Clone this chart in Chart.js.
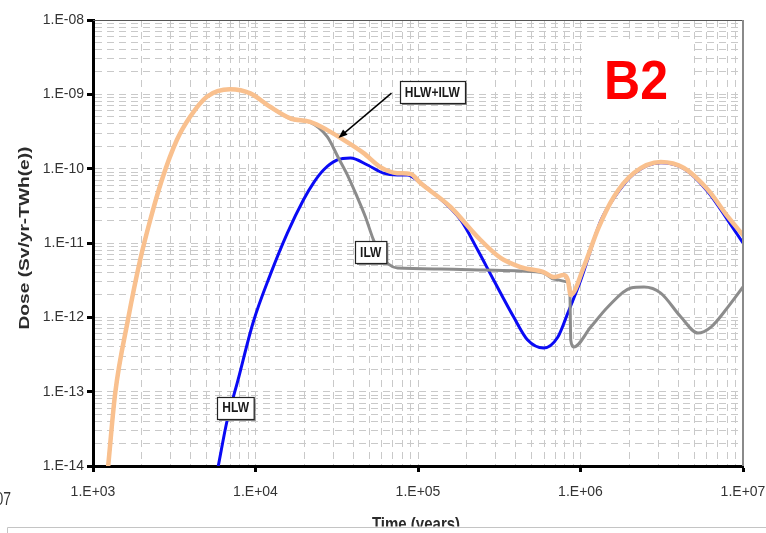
<!DOCTYPE html>
<html>
<head>
<meta charset="utf-8">
<script src="https://cdn.jsdelivr.net/npm/chart.js@4/dist/chart.umd.min.js"></script>
<style>
  html, body { margin: 0; padding: 0; background: #ffffff; }
  #wrap { width: 766px; height: 533px; position: relative; }
  canvas { display: block; }
</style>
</head>
<body>
<div id="wrap"><canvas id="dose" width="766" height="533"></canvas></div>
<script>
// Time (years) and dose (Sv/yr-TWh(e)) for each waste stream
const timeTotal = [1240, 1370, 1640, 1950, 2250, 2650, 3280, 3960, 5020, 6980, 9290, 12300, 16400, 21700, 27700, 33300, 46100, 58700, 74500, 89900, 103600, 158500, 233000, 322000, 428000, 593000, 684000, 788000, 835000, 871000, 1047000, 1290000, 1603000, 2130000, 3120000, 4330000, 6080000, 8090000, 10000000];
const doseTotal = [1.0e-14, 9.6e-14, 9.2e-13, 5.9e-12, 2.04e-11, 7.0e-11, 2.43e-10, 5.0e-10, 9.3e-10, 1.17e-9, 1.03e-9, 6.8e-10, 4.76e-10, 4.25e-10, 3.3e-10, 2.59e-10, 1.63e-10, 1.05e-10, 8.7e-11, 8.5e-11, 6.4e-11, 3.05e-11, 1.2e-11, 6.3e-12, 4.75e-12, 4.07e-12, 3.48e-12, 3.7e-12, 3.2e-12, 2.0e-12, 4.75e-12, 1.6e-11, 4.16e-11, 8.75e-11, 1.23e-10, 1.02e-10, 5.2e-11, 2.24e-11, 1.28e-11];

const timeHLW = [5900, 6700, 7720, 9690, 12300, 15700, 19700, 22700, 26200, 31900, 38400, 48900, 61300, 74800, 86100, 103600, 124700, 183000, 233000, 292000, 388000, 473000, 593000, 724000, 835000, 1004000, 1334000, 1603000, 2130000, 3120000, 4330000, 6080000, 8090000, 10000000];
const doseHLW = [1.0e-14, 4.16e-14, 1.31e-13, 8.65e-13, 3.7e-12, 1.36e-11, 3.79e-11, 6.4e-11, 9.6e-11, 1.31e-10, 1.39e-10, 1.12e-10, 8.7e-11, 8.2e-11, 8.2e-11, 6.4e-11, 4.7e-11, 2.04e-11, 8.05e-12, 3.18e-12, 1.01e-12, 4.95e-13, 3.87e-13, 5.4e-13, 1.14e-12, 3.18e-12, 2.0e-11, 4.0e-11, 8.5e-11, 1.2e-10, 1.0e-10, 4.9e-11, 2.0e-11, 1.0e-11];

const timeILW = [1240, 1370, 1640, 1950, 2250, 2650, 3280, 3960, 5020, 6980, 9290, 12300, 16400, 21700, 27700, 32400, 36800, 41800, 47500, 53200, 58800, 65800, 74800, 137700, 254000, 428000, 593000, 684000, 835000, 859000, 871000, 909000, 1156000, 1472000, 2040000, 2460000, 3120000, 4150000, 5280000, 6350000, 8090000, 10000000];
const doseILW = [1.0e-14, 9.6e-14, 9.2e-13, 5.9e-12, 2.04e-11, 7.0e-11, 2.43e-10, 5.0e-10, 9.3e-10, 1.17e-9, 1.03e-9, 6.8e-10, 4.7e-10, 4.2e-10, 2.67e-10, 1.39e-10, 8.2e-11, 4.4e-11, 2.24e-11, 1.1e-11, 6.9e-12, 5.2e-12, 4.6e-12, 4.47e-12, 4.33e-12, 4.2e-12, 3.95e-12, 3.28e-12, 2.99e-12, 2.56e-12, 4.95e-13, 4.0e-13, 7.4e-13, 1.38e-12, 2.48e-12, 2.56e-12, 2.12e-12, 1.01e-12, 6.15e-13, 7.4e-13, 1.38e-12, 2.56e-12];

// Axis decades (exponents of ten)
const timeDecades = [3, 4, 5, 6, 7];
const doseDecades = [-14, -13, -12, -11, -10, -9, -8];

const seriesNames = ['HLW+ILW', 'ILW', 'HLW'];

// Callout labels, anchored in data coordinates
const callouts = [
  { text: 'HLW', t: 7550, d: 6.1e-14 },
  { text: 'ILW', t: 51200, d: 7.6e-12 },
  { text: 'HLW+ILW', t: 122400, d: 1.06e-9, arrowFrom: { t: 68700, d: 1.04e-9 }, arrowTo: { t: 32400, d: 2.59e-10 } }
];

function pairs(xs, ys) { return xs.map((x, i) => ({ x: x, y: ys[i] })); }

function decadeTicks(exps) {
  const out = [];
  for (let i = 0; i < exps.length - 1; i++) {
    for (let m = 1; m <= 9; m++) out.push({ value: m * Math.pow(10, exps[i]) });
  }
  out.push({ value: Math.pow(10, exps[exps.length - 1]) });
  return out;
}
function isDecade(v) {
  const l = Math.log10(v);
  return Math.abs(l - Math.round(l)) < 1e-6;
}
function sciLabel(v) {
  if (!isDecade(v)) return '';
  const e = Math.round(Math.log10(v));
  return '1.E' + (e < 0 ? '-' : '+') + String(Math.abs(e)).padStart(2, '0');
}

const FONT = '"Liberation Sans", Arial, sans-serif';
const GRID = '#c9c9c9';
const SY = 1.28; // vertical stretch of the drawn captions

function stretchText(ctx, text, x, y, font, color, align, sy) {
  ctx.save();
  ctx.font = font;
  ctx.fillStyle = color;
  ctx.textAlign = align;
  ctx.textBaseline = 'middle';
  ctx.translate(x, y);
  ctx.scale(1, sy);
  ctx.fillText(text, 0, 0);
  ctx.restore();
}

const decorations = {
  id: 'decorations',
  beforeDatasetsDraw(chart) {
    const ctx = chart.ctx;
    // white panel behind the scenario tag
    ctx.save();
    ctx.fillStyle = '#ffffff';
    ctx.fillRect(582, 40, 109, 80);
    ctx.restore();
  },
  afterDatasetsDraw(chart) {
    const ctx = chart.ctx;
    const xs = chart.scales.x, ys = chart.scales.y;
    const a = chart.chartArea;

    // frame: top and right edges of the plot area
    ctx.save();
    ctx.strokeStyle = '#555555';
    ctx.lineWidth = 1.2;
    ctx.beginPath();
    ctx.moveTo(a.left, a.top + 0.5);
    ctx.lineTo(a.right, a.top + 0.5);
    ctx.stroke();
    ctx.strokeStyle = '#8a8a8a';
    ctx.lineWidth = 2;
    ctx.beginPath();
    ctx.moveTo(a.right, a.top);
    ctx.lineTo(a.right, a.bottom);
    ctx.stroke();
    ctx.restore();

    // scenario tag
    stretchText(ctx, 'B2', 636, 84, 'bold 50px ' + FONT, '#ff0000', 'center', 1.1);

    // callouts
    callouts.forEach(c => {
      const cx = xs.getPixelForValue(c.t);
      const cy = ys.getPixelForValue(c.d);
      if (c.arrowFrom) {
        const x1 = xs.getPixelForValue(c.arrowFrom.t), y1 = ys.getPixelForValue(c.arrowFrom.d);
        const x2 = xs.getPixelForValue(c.arrowTo.t), y2 = ys.getPixelForValue(c.arrowTo.d);
        const ang = Math.atan2(y2 - y1, x2 - x1);
        ctx.save();
        ctx.strokeStyle = '#000';
        ctx.fillStyle = '#000';
        ctx.lineWidth = 1.5;
        ctx.beginPath();
        ctx.moveTo(x1, y1);
        ctx.lineTo(x2 - 6 * Math.cos(ang), y2 - 6 * Math.sin(ang));
        ctx.stroke();
        ctx.beginPath();
        ctx.moveTo(x2, y2);
        ctx.lineTo(x2 - 9 * Math.cos(ang) + 3.5 * Math.sin(ang), y2 - 9 * Math.sin(ang) - 3.5 * Math.cos(ang));
        ctx.lineTo(x2 - 9 * Math.cos(ang) - 3.5 * Math.sin(ang), y2 - 9 * Math.sin(ang) + 3.5 * Math.cos(ang));
        ctx.closePath();
        ctx.fill();
        ctx.restore();
      }
      ctx.save();
      ctx.font = 'bold 12px ' + FONT;
      const w = ctx.measureText(c.text).width + 10;
      const h = 22;
      const bx = Math.round(cx - w / 2) + 0.5, by = Math.round(cy - h / 2) + 0.5;
      ctx.fillStyle = '#8c8c8c';
      ctx.fillRect(bx + 1.5, by + 1.5, w, h);
      ctx.fillStyle = '#ffffff';
      ctx.fillRect(bx, by, w, h);
      ctx.strokeStyle = '#222222';
      ctx.lineWidth = 1.2;
      ctx.strokeRect(bx, by, w, h);
      ctx.restore();
      stretchText(ctx, c.text, cx, cy + 0.5, 'bold 12px ' + FONT, '#1a1a1a', 'center', SY);
    });
  },
  afterDraw(chart) {
    const ctx = chart.ctx;
    // y axis title
    ctx.save();
    ctx.font = 'bold 15px ' + FONT;
    const t = 'Dose (Sv/yr-TWh(e))';
    const tw = ctx.measureText(t).width;
    ctx.translate(25, 238);
    ctx.rotate(-Math.PI / 2);
    ctx.scale(183 / tw, 1);
    ctx.fillStyle = '#2b2b2b';
    ctx.textAlign = 'center';
    ctx.textBaseline = 'middle';
    ctx.fillText(t, 0, 0);
    ctx.restore();

    // x axis title, cut by the lower frame
    ctx.save();
    ctx.beginPath();
    ctx.rect(0, 0, 766, 526.5);
    ctx.clip();
    stretchText(ctx, 'Time (years)', 416, 525, 'bold 15px ' + FONT, '#2b2b2b', 'center', SY);
    ctx.restore();

    // neighbouring panel edge
    stretchText(ctx, '1.E+07', 11, 500, '14px ' + FONT, '#333333', 'right', SY);
    ctx.save();
    ctx.strokeStyle = '#c4c4c4';
    ctx.lineWidth = 1;
    ctx.beginPath();
    ctx.moveTo(7.5, 533);
    ctx.lineTo(7.5, 527.5);
    ctx.lineTo(766, 527.5);
    ctx.stroke();
    ctx.restore();
  }
};

function axisOptions(exps, extra) {
  return Object.assign({
    type: 'logarithmic',
    min: Math.pow(10, exps[0]),
    max: Math.pow(10, exps[exps.length - 1]),
    afterBuildTicks: s => { s.ticks = decadeTicks(exps); },
    ticks: {
      autoSkip: false,
      maxRotation: 0,
      minRotation: 0,
      color: '#333333',
      font: { family: FONT, size: 14 },
      callback: v => sciLabel(v)
    },
    grid: {
      color: GRID,
      lineWidth: 1,
      drawTicks: true,
      tickLength: 6,
      tickWidth: 3,
      tickColor: c => (c.tick && isDecade(c.tick.value)) ? '#000000' : 'rgba(0,0,0,0)'
    },
    border: { display: true, color: '#000000', width: 3, dash: [7, 5] },
    title: { display: false }
  }, extra);
}

const xOpts = axisOptions(timeDecades, {
  afterFit: s => { s.height = 67; s.paddingLeft = 0; s.paddingRight = 0; }
});
xOpts.ticks.padding = 12;
const yOpts = axisOptions(doseDecades, {
  afterFit: s => { s.width = 93; s.paddingTop = 0; s.paddingBottom = 0; }
});
yOpts.ticks.padding = 3;

new Chart(document.getElementById('dose'), {
  type: 'line',
  data: {
    datasets: [
      {
        label: seriesNames[0],
        data: pairs(timeTotal, doseTotal),
        borderColor: '#f9c08e',
        borderWidth: 4.5,
        order: 0
      },
      {
        label: seriesNames[1],
        data: pairs(timeILW, doseILW),
        borderColor: '#8c8c8c',
        borderWidth: 3,
        order: 1
      },
      {
        label: seriesNames[2],
        data: pairs(timeHLW, doseHLW),
        borderColor: '#0a0af5',
        borderWidth: 3,
        order: 2
      }
    ]
  },
  options: {
    responsive: false,
    animation: false,
    devicePixelRatio: 1,
    parsing: true,
    layout: { padding: { left: 0, top: 20, right: 23, bottom: 0 } },
    elements: {
      point: { radius: 0, hoverRadius: 0 },
      line: { cubicInterpolationMode: 'monotone', fill: false, borderCapStyle: 'round', borderJoinStyle: 'round' }
    },
    plugins: {
      legend: { display: false },
      tooltip: { enabled: false },
      title: { display: false }
    },
    scales: { x: xOpts, y: yOpts }
  },
  plugins: [decorations]
});
</script>
</body>
</html>
